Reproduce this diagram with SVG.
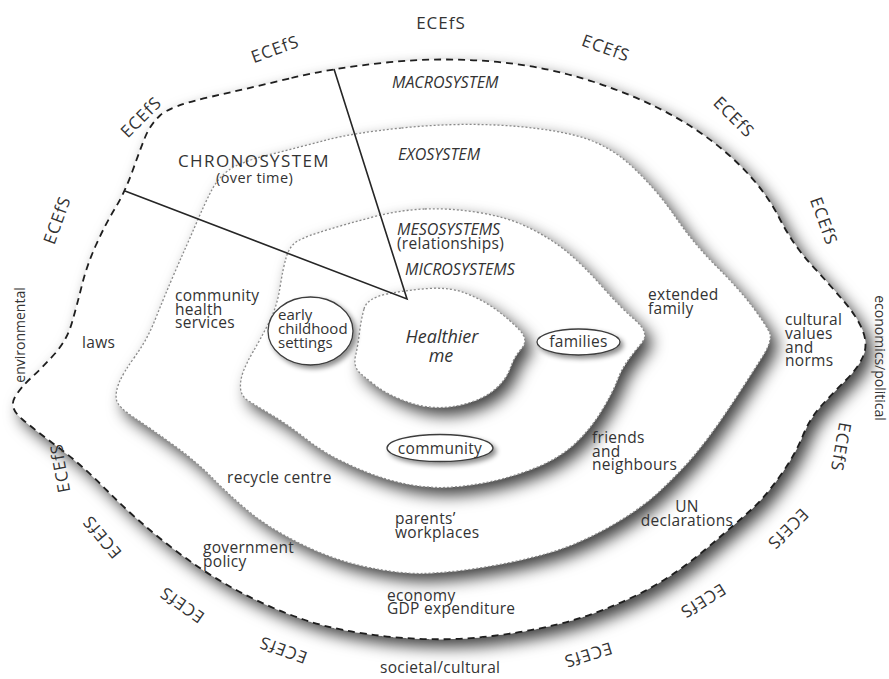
<svg xmlns="http://www.w3.org/2000/svg" xmlns:xlink="http://www.w3.org/1999/xlink" width="889" height="679" viewBox="0 0 889 679">
  <style>
    .ring { fill: #ffffff; filter: url(#shadow); }
    .edge-dash { fill: none; stroke: #1e1e1e; stroke-width: 1.8; stroke-dasharray: 7 5; }
    .edge-dot { fill: none; stroke: #8a8a8a; stroke-width: 1.3; stroke-dasharray: 2 2; }
    .bubble { fill: #ffffff; stroke: #3c3c3c; stroke-width: 1.3; filter: url(#softshadow); }
    .chrono { fill: none; stroke: #262626; stroke-width: 1.6; stroke-linejoin: miter; }
    text { font-family: "Open Sans", "DejaVu Sans", sans-serif; fill: #333333; }
    .lbl { font-size: 15.5px; letter-spacing: 0.3px; }
    .sys { font-size: 16px; font-style: italic; }
    .small { font-size: 15px; }
    .ecefs { font-size: 17px; letter-spacing: 1px; text-anchor: middle; }
    .side { font-size: 14px; text-anchor: middle; }
    .mid { text-anchor: middle; }
  </style>
  <defs>
    <filter id="shadow" x="-15%" y="-15%" width="140%" height="140%">
      <feDropShadow dx="7" dy="8" stdDeviation="8" flood-color="#000000" flood-opacity="0.75"/>
    </filter>
    <filter id="softshadow" x="-30%" y="-30%" width="170%" height="180%">
      <feDropShadow dx="3" dy="3" stdDeviation="2.5" flood-color="#000000" flood-opacity="0.45"/>
    </filter>
    <!-- ring outlines, outermost to innermost -->
    <path id="macroPath" d="M291.5,78 Q333,68 386.5,62.5 Q440,57 492.5,61.5 Q545,66 592.5,81.5 Q640,97 676,117.5 Q712,138 738.5,164 Q765,190 779,217.5 Q793,245 811.5,265 Q830,285 844,301.5 Q858,318 863,331.5 Q868,345 863,356.5 Q858,368 845.5,380.5 Q833,393 821.5,405.5 Q810,418 802.5,436.5 Q795,455 780,476 Q765,497 752.5,508.5 Q740,520 706.5,548.5 Q673,577 640,593.5 Q607,610 573.5,620 Q540,630 492.5,636 Q445,642 392.5,637 Q340,632 303.5,619.5 Q267,607 233.5,588.5 Q200,570 166.5,543.5 Q133,517 107.5,491 Q82,465 58.5,447.5 Q35,430 22,419 Q9,408 14.5,398 Q20,388 31.5,377.5 Q43,367 55,353.5 Q67,340 72,322.5 Q77,305 82,285 Q87,265 96,245 Q105,225 115,208.5 Q125,192 132.5,171 Q140,150 145,137.5 Q150,125 160,115.5 Q170,106 210,97 Q250,88 291.5,78 Z"/>
    <path id="exoPath" d="M401.5,128 Q450,123 495,125 Q540,127 573.5,135 Q607,143 632,166.5 Q657,190 675,216.5 Q693,243 716.5,266.5 Q740,290 753,307.5 Q766,325 769.5,332.5 Q773,340 762.5,356.5 Q752,373 741,390 Q730,407 718.5,423.5 Q707,440 694.5,455 Q682,470 661,490 Q640,510 606.5,528.5 Q573,547 540,555.5 Q507,564 476,568.5 Q445,573 422.5,573.5 Q400,574 366.5,567 Q333,560 300,543.5 Q267,527 247,510 Q227,493 212,477.5 Q197,462 173.5,445 Q150,428 134,417.5 Q118,407 116.5,400 Q115,393 119,383 Q123,373 135,356.5 Q147,340 155,320 Q163,300 170,283.5 Q177,267 183.5,252.5 Q190,238 197.5,220.5 Q205,203 211.5,190.5 Q218,178 229,170 Q240,162 270,154.5 Q300,147 326.5,140 Q353,133 401.5,128 Z"/>
    <path id="mesoPath" d="M425,209 Q450,208 478.5,212.5 Q507,217 528.5,227.5 Q550,238 566.5,251.5 Q583,265 601.5,286 Q620,307 635,320 Q650,333 642,342.5 Q634,352 627.5,361 Q621,370 617,381 Q613,392 601.5,411 Q590,430 573.5,445 Q557,460 530,470 Q503,480 478,484 Q453,488 436.5,487.5 Q420,487 403.5,483.5 Q387,480 370,473.5 Q353,467 336.5,458.5 Q320,450 303.5,437 Q287,424 271,414.5 Q255,405 248,400.5 Q241,396 240.5,388 Q240,380 243.5,371 Q247,362 253.5,351 Q260,340 268.5,323.5 Q277,307 280,287.5 Q283,268 286.5,256.5 Q290,245 298.5,240.5 Q307,236 328.5,229.5 Q350,223 375,216.5 Q400,210 425,209 Z"/>
    <path id="microPath" d="M364,309 Q367,298 387,294 Q407,290 428.5,288.5 Q450,287 466.5,293.5 Q483,300 496.5,310 Q510,320 519.5,330 Q529,340 521.5,348.5 Q514,357 510.5,367.5 Q507,378 497,387.5 Q487,397 470,402.5 Q453,408 436.5,407.5 Q420,407 403.5,400.5 Q387,394 377.5,387 Q368,380 360.5,373.5 Q353,367 355.5,356 Q358,345 359.5,332.5 Q361,320 364,309 Z"/>
  </defs>

  <rect width="889" height="679" fill="#ffffff"/>

  <!-- MACROSYSTEM ring -->
  <g id="macrosystem">
    <use xlink:href="#macroPath" class="ring"/>
    <use xlink:href="#macroPath" class="edge-dash"/>
  </g>

  <!-- EXOSYSTEM ring -->
  <g id="exosystem">
    <use xlink:href="#exoPath" class="ring"/>
    <use xlink:href="#exoPath" class="edge-dot"/>
  </g>

  <!-- MESOSYSTEM ring -->
  <g id="mesosystem">
    <use xlink:href="#mesoPath" class="ring"/>
    <use xlink:href="#mesoPath" class="edge-dot"/>
  </g>

  <!-- MICROSYSTEM core -->
  <g id="microsystem">
    <use xlink:href="#microPath" class="ring"/>
    <use xlink:href="#microPath" class="edge-dot"/>
  </g>

  <!-- chronosystem wedge -->
  <g id="connectors">
    <polyline class="chrono" points="334,69 407,299 125,191"/>
  </g>

  <!-- settings bubbles -->
  <g id="early-childhood">
    <ellipse class="bubble" cx="310.5" cy="331" rx="42.5" ry="34"/>
    <text class="small" x="278" y="320">early</text>
    <text class="small" x="278" y="334">childhood</text>
    <text class="small" x="278" y="348">settings</text>
  </g>
  <g id="families">
    <ellipse class="bubble" cx="578.5" cy="342" rx="41.5" ry="13"/>
    <text class="lbl mid" x="578.5" y="347">families</text>
  </g>
  <g id="community">
    <ellipse class="bubble" cx="440" cy="448" rx="53" ry="13.5"/>
    <text class="lbl mid" x="440" y="454">community</text>
  </g>

  <!-- centre -->
  <g id="healthier-me">
    <text class="mid" x="442" y="343" font-size="18" font-style="italic">Healthier</text>
    <text class="mid" x="441" y="362" font-size="18" font-style="italic">me</text>
  </g>

  <!-- system titles -->
  <g id="system-titles">
    <text class="sys" x="392" y="88">MACROSYSTEM</text>
    <text class="sys" x="398" y="160">EXOSYSTEM</text>
    <text class="sys" x="397" y="235">MESOSYSTEMS</text>
    <text class="lbl" x="397" y="249">(relationships)</text>
    <text class="sys" x="405" y="275">MICROSYSTEMS</text>
  </g>
  <g id="chronosystem">
    <text x="178" y="167" font-size="17" letter-spacing="1.4">CHRONOSYSTEM</text>
    <text x="216" y="183" font-size="14.5" letter-spacing="0.4">(over time)</text>
  </g>

  <!-- ring contents -->
  <g id="exo-items">
    <text class="lbl" x="175" y="301">community</text>
    <text class="lbl" x="175" y="314.5">health</text>
    <text class="lbl" x="175" y="328">services</text>
    <text class="lbl" x="648" y="300">extended</text>
    <text class="lbl" x="648" y="314">family</text>
    <text class="lbl" x="592" y="443">friends</text>
    <text class="lbl" x="592" y="456.5">and</text>
    <text class="lbl" x="592" y="470">neighbours</text>
    <text class="lbl" x="227" y="483">recycle centre</text>
    <text class="lbl" x="395" y="524">parents’</text>
    <text class="lbl" x="395" y="538">workplaces</text>
  </g>
  <g id="macro-items">
    <text class="lbl" x="82" y="348">laws</text>
    <text class="lbl" x="785" y="325">cultural</text>
    <text class="lbl" x="785" y="339">values</text>
    <text class="lbl" x="785" y="352.5">and</text>
    <text class="lbl" x="785" y="366">norms</text>
    <text class="lbl mid" x="687" y="512">UN</text>
    <text class="lbl mid" x="687" y="525.5">declarations</text>
    <text class="lbl" x="203" y="553">government</text>
    <text class="lbl" x="203" y="567">policy</text>
    <text class="lbl" x="387" y="600.5">economy</text>
    <text class="lbl" x="387" y="614">GDP expenditure</text>
  </g>

  <!-- outer contexts -->
  <g id="contexts">
    <text class="side" transform="translate(25,335) rotate(-90)">environmental</text>
    <text class="side" transform="translate(875,358) rotate(90)">economics/political</text>
    <text class="lbl" x="380" y="673">societal/cultural</text>
  </g>

  <!-- ECEfS ring -->
  <g id="ecefs-ring">
    <text class="ecefs" transform="translate(441,23)" y="6">ECEfS</text>
    <text class="ecefs" transform="translate(275,49) rotate(-20)" y="6">ECEfS</text>
    <text class="ecefs" transform="translate(141,117) rotate(-45)" y="6">ECEfS</text>
    <text class="ecefs" transform="translate(57,220) rotate(-70)" y="6">ECEfS</text>
    <text class="ecefs" transform="translate(606,48) rotate(20)" y="6">ECEfS</text>
    <text class="ecefs" transform="translate(734,117) rotate(45)" y="6">ECEfS</text>
    <text class="ecefs" transform="translate(824,221) rotate(70)" y="6">ECEfS</text>
    <text class="ecefs" transform="translate(841,447) rotate(100)" y="6">ECEfS</text>
    <text class="ecefs" transform="translate(788,529) rotate(135)" y="6">ECEfS</text>
    <text class="ecefs" transform="translate(703,601) rotate(148)" y="6">ECEfS</text>
    <text class="ecefs" transform="translate(588,655) rotate(163)" y="6">ECEfS</text>
    <text class="ecefs" transform="translate(283,650) rotate(-160)" y="6">ECEfS</text>
    <text class="ecefs" transform="translate(182,605) rotate(-145)" y="6">ECEfS</text>
    <text class="ecefs" transform="translate(102,537) rotate(-130)" y="6">ECEfS</text>
    <text class="ecefs" transform="translate(60,468) rotate(-100)" y="6">ECEfS</text>
  </g>
</svg>
